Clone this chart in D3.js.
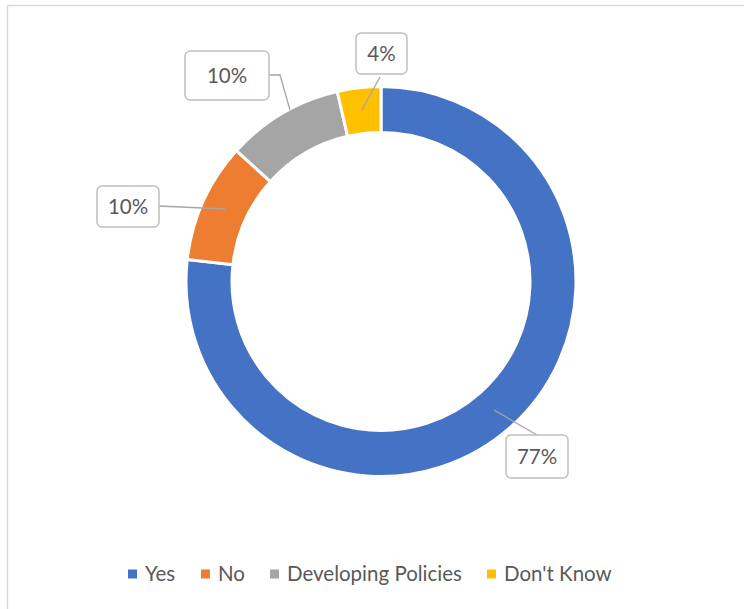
<!DOCTYPE html>
<html>
<head>
<meta charset="utf-8">
<script src="https://cdn.jsdelivr.net/npm/d3@7"></script>
<style>
  body { margin: 0; background: #fff; }
  svg { display: block; font-family: Lato, "Open Sans", sans-serif; }
</style>
</head>
<body>
<div id="chart"></div>
<script>
let width = 744;
let height = 609;

// data
let categories = ["Yes", "No", "Developing Policies", "Don't Know"];
let shares = [76.8, 9.9, 9.7, 3.6];
let colorList = ["#4472c4", "#ed7d31", "#a5a5a5", "#ffc000"];

// label boxes, hand placed like the original
let labelBoxes = [
  {x: 506, y: 435, w: 62, h: 43, line: [[537, 435], [494, 410]]},
  {x: 97, y: 186, w: 62, h: 41, line: [[159, 206], [225, 209]]},
  {x: 185, y: 51, w: 84, h: 49, line: [[269, 75], [280, 75], [290, 110]]},
  {x: 356, y: 33, w: 51, h: 41, line: [[380, 77], [362, 110]]}
];

let cx = 381, cy = 281.5;
let outerR = 195, innerR = 149;

let colors = d3.scaleOrdinal().domain(categories).range(colorList);

let svg = d3.select("#chart").append("svg")
    .attr("width", width)
    .attr("height", height);

// chart area border (only top and left show)
svg.append("line").attr("x1", 7).attr("y1", 5.5).attr("x2", width).attr("y2", 5.5)
    .attr("stroke", "#d9d9d9").attr("stroke-width", 1.5);
svg.append("line").attr("x1", 7.5).attr("y1", 5).attr("x2", 7.5).attr("y2", height)
    .attr("stroke", "#d9d9d9").attr("stroke-width", 1.5);

let data = categories.map(function(c, i) { return {name: c, value: shares[i]}; });
let total = d3.sum(shares);

let pie = d3.pie().sort(null).value(function(d) { return d.value; });
let arc = d3.arc().innerRadius(innerR).outerRadius(outerR);

let g = svg.append("g").attr("transform", "translate(" + cx + "," + cy + ")");

g.selectAll("path")
    .data(pie(data))
    .enter()
    .append("path")
    .attr("d", arc)
    .attr("fill", function(d) { return colors(d.data.name); })
    .attr("stroke", "#fff")
    .attr("stroke-width", 3);

// leader lines
let lineGen = d3.line();
svg.selectAll(".leader")
    .data(labelBoxes)
    .enter()
    .append("path")
    .attr("class", "leader")
    .attr("d", function(d) { return lineGen(d.line); })
    .attr("fill", "none")
    .attr("stroke", "#a6a6a6")
    .attr("stroke-width", 1.3);

let fmt = d3.format(".0%");
let labels = svg.selectAll(".lbl")
    .data(labelBoxes)
    .enter()
    .append("g")
    .attr("class", "lbl");

labels.append("rect")
    .attr("x", function(d) { return d.x; })
    .attr("y", function(d) { return d.y; })
    .attr("width", function(d) { return d.w; })
    .attr("height", function(d) { return d.h; })
    .attr("rx", 5)
    .attr("fill", "#fff")
    .attr("stroke", "#bfbfbf")
    .attr("stroke-width", 1.5);

labels.append("text")
    .attr("x", function(d) { return d.x + d.w / 2; })
    .attr("y", function(d) { return d.y + d.h / 2; })
    .attr("dy", "0.36em")
    .attr("text-anchor", "middle")
    .attr("fill", "#595959")
    .style("font-size", "20.5px")
    .text(function(d, i) { return fmt(shares[i] / total); });

// legend
let legendX = [128, 201, 270, 487];
let legend = svg.selectAll(".legend")
    .data(categories)
    .enter()
    .append("g")
    .attr("class", "legend")
    .attr("transform", function(d, i) { return "translate(" + legendX[i] + ",574)"; });

legend.append("rect")
    .attr("x", 0).attr("y", -4.5)
    .attr("width", 9).attr("height", 9)
    .attr("fill", function(d) { return colors(d); });

legend.append("text")
    .attr("x", 17)
    .attr("dy", "0.36em")
    .attr("fill", "#595959")
    .style("font-size", "20.5px")
    .text(function(d) { return d; });
</script>
</body>
</html>
